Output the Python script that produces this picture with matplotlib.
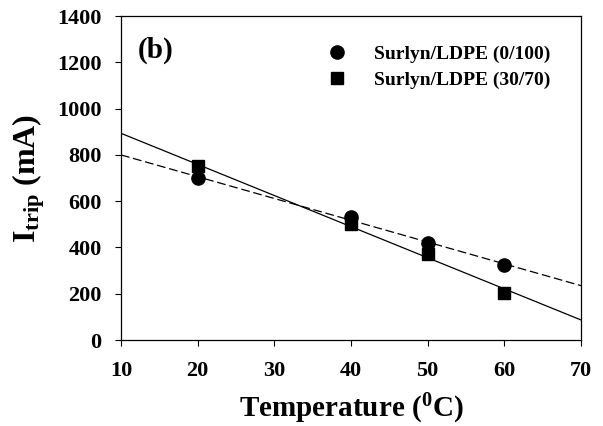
import numpy as np
import matplotlib
matplotlib.use("Agg")
import matplotlib.pyplot as plt

temps = [20, 40, 50, 60]
itrip_0_100 = [700, 530, 420, 325]
itrip_30_70 = [750, 500, 370, 205]
labels = ["Surlyn/LDPE (0/100)", "Surlyn/LDPE (30/70)"]
xticks = [10, 20, 30, 40, 50, 60, 70]
yticks = [0, 200, 400, 600, 800, 1000, 1200, 1400]

plt.rcParams['font.family'] = ['Liberation Serif', 'DejaVu Serif']
plt.rcParams['font.weight'] = 'bold'
plt.rcParams['mathtext.fontset'] = 'custom'
plt.rcParams['mathtext.rm'] = 'Liberation Serif:bold'
plt.rcParams['mathtext.bf'] = 'Liberation Serif:bold'
plt.rcParams['mathtext.it'] = 'Liberation Serif:bold'
plt.rcParams['mathtext.default'] = 'rm'

fig = plt.figure(figsize=(6.03, 4.26), dpi=100)
ax = fig.add_axes([121/603, 1-340/426, 460/603, 324/426])

xx = np.array([10, 70])
c1 = np.polyfit(temps, itrip_0_100, 1)
c2 = np.polyfit(temps, itrip_30_70, 1)
ax.plot(xx, np.polyval(c1, xx), color='black', lw=0.9, ls=(0, (7, 3)))
ax.plot(xx, np.polyval(c2, xx), color='black', lw=0.9, ls='-')
ax.plot(temps, itrip_0_100, 'o', color='black', ms=9.5, label=labels[0])
ax.plot(temps, itrip_30_70, 's', color='black', ms=8.5, label=labels[1])

ax.set_xlim(10, 70)
ax.set_ylim(0, 1400)
ax.set_xticks(xticks)
ax.set_yticks(yticks)
ax.tick_params(direction='out', length=4, width=0.8, labelsize=16)
ax.tick_params(axis='x', pad=11)
ax.tick_params(axis='y', pad=10)
for lab in ax.get_xticklabels() + ax.get_yticklabels():
    lab.set_fontweight('bold')
for s in ax.spines.values():
    s.set_linewidth(0.9)

ax.set_xlabel('Temperature ($^{0}$C)', fontsize=21, fontweight='bold', labelpad=8)
ax.set_ylabel('I$_{trip}$ (mA)', fontsize=23, fontweight='bold', labelpad=7)
ax.text(0.037, 0.895, '(b)', transform=ax.transAxes, fontsize=21, fontweight='bold', va='center')

leg = ax.legend(loc='upper left', bbox_to_anchor=(0.41, 0.963), frameon=False,
                prop={'size': 14, 'weight': 'bold'}, handletextpad=1.4, labelspacing=0.4,
                handlelength=1.0)
fig.savefig('out.png', dpi=100)
